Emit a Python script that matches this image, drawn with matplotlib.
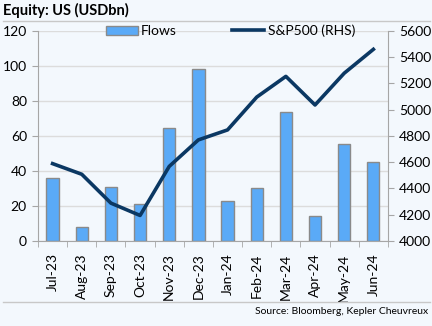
import matplotlib.pyplot as plt
import numpy as np

months = ['Jul-23', 'Aug-23', 'Sep-23', 'Oct-23', 'Nov-23', 'Dec-23',
          'Jan-24', 'Feb-24', 'Mar-24', 'Apr-24', 'May-24', 'Jun-24']
flows = [36, 8, 31, 21, 64.5, 98, 23, 30.5, 73.5, 14.5, 55.5, 45]
spx = [4589, 4508, 4288, 4194, 4568, 4770, 4846, 5096, 5254, 5036, 5278, 5460]

plt.rcParams['font.family'] = ['Lato', 'DejaVu Sans']
bg = '#f3f8fd'
grey = '#a6a6a6'

fig = plt.figure(figsize=(4.32, 3.26), dpi=100, facecolor=bg)
ax = fig.add_axes([0.088, 0.261, 0.81, 0.644], facecolor=bg)
ax2 = ax.twinx()

x = np.arange(len(months))
b = ax.bar(x, flows, width=0.42, color='#5aaaf7', edgecolor='#8a8a8a', linewidth=1, zorder=2, label='Flows')
l, = ax2.plot(x, spx, color='#0b3863', linewidth=2.6, label='S&P500 (RHS)', zorder=3)

ax.set_xlim(-0.5, len(months) - 0.5)
ax.set_ylim(0, 120)
ax.set_yticks(range(0, 121, 20))
ax2.set_ylim(4000, 5600)
ax2.set_yticks(range(4000, 5601, 200))
ax.yaxis.grid(True, color='#dcdcdc', linewidth=1, zorder=0)
ax.set_axisbelow(True)

ax.set_xticks(x)
ax.set_xticklabels(months, rotation=90)
ax.set_xticks(np.arange(-0.5, len(months), 1), minor=True)
ax.tick_params(axis='x', which='major', length=0, pad=9)
ax.tick_params(axis='x', which='minor', length=4, color=grey, direction='out')
ax.tick_params(axis='y', length=4, color=grey, labelsize=10, pad=4)
ax.tick_params(axis='x', labelsize=10)
ax2.tick_params(axis='y', length=4, color=grey, labelsize=10, pad=4)

for a in (ax, ax2):
    a.spines['top'].set_visible(False)
    for s in ('left', 'right', 'bottom'):
        a.spines[s].set_color(grey)
ax.spines['right'].set_visible(False)
ax2.spines['left'].set_visible(False)
ax2.spines['bottom'].set_visible(False)

leg = ax.legend([b, l], ['Flows', 'S&P500 (RHS)'], ncol=2, loc='center',
                bbox_to_anchor=(0.55, 1.0), frameon=False, fontsize=10,
                handlelength=2.3, handletextpad=0.25, columnspacing=4.0,
                borderaxespad=0)

fig.text(0.007, 0.968, 'Equity: US (USDbn)', fontsize=10.5, fontweight='bold', va='center', ha='left')
fig.add_artist(plt.Line2D([0.007, 0.995], [0.935, 0.935], color='#c8c8c8', linewidth=1))
fig.add_artist(plt.Line2D([0.007, 0.995], [0.074, 0.074], color='#c8c8c8', linewidth=1))
fig.text(0.99, 0.045, 'Source: Bloomberg, Kepler Cheuvreux', fontsize=7.5, ha='right', va='center')

fig.savefig('out.png', dpi=100, facecolor=bg)
